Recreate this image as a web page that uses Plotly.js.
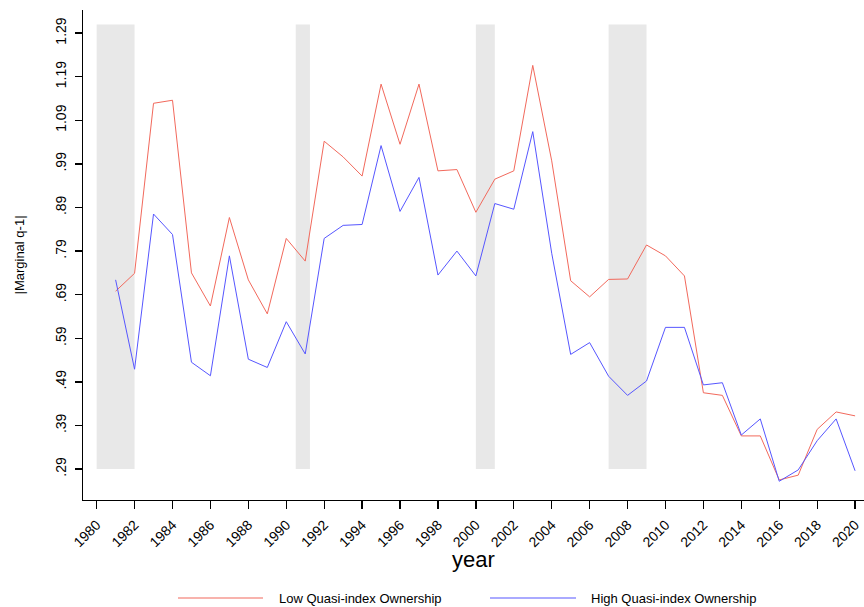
<!DOCTYPE html>
<html>
<head>
<meta charset="utf-8">
<script src="https://cdn.plot.ly/plotly-3.0.1.min.js"></script>
<style>
  html, body { margin: 0; padding: 0; background: #fff; }
  #chart { width: 864px; height: 607px; }
</style>
</head>
<body>
<div id="chart"></div>
<script>
// Years covered by both series
const years = [1981,1982,1983,1984,1985,1986,1987,1988,1989,1990,
               1991,1992,1993,1994,1995,1996,1997,1998,1999,2000,
               2001,2002,2003,2004,2005,2006,2007,2008,2009,2010,
               2011,2012,2013,2014,2015,2016,2017,2018,2019,2020];

// |Marginal q-1| for firms with low quasi-index ownership
const lowQix = [0.698,0.739,1.129,1.136,0.740,0.664,0.867,0.724,0.646,0.819,
                0.767,1.042,1.006,0.962,1.173,1.035,1.173,0.974,0.977,0.879,
                0.955,0.974,1.216,0.997,0.722,0.685,0.725,0.726,0.804,0.779,
                0.733,0.465,0.459,0.366,0.366,0.265,0.276,0.381,0.421,0.412];

// |Marginal q-1| for firms with high quasi-index ownership
const highQix = [0.724,0.519,0.875,0.828,0.535,0.504,0.779,0.542,0.523,0.628,
                 0.554,0.819,0.849,0.851,1.032,0.881,0.959,0.735,0.790,0.733,
                 0.899,0.886,1.064,0.785,0.553,0.580,0.503,0.459,0.492,0.615,
                 0.615,0.483,0.488,0.368,0.405,0.262,0.288,0.355,0.405,0.286];

// Recession periods (shaded bands)
const recStart = [1980, 1990.5, 2000, 2007];
const recEnd   = [1982, 1991.25, 2001, 2009];
const bandLow = 0.29, bandHigh = 1.31;

// Axis ticks
const yTickVals = [0.29,0.39,0.49,0.59,0.69,0.79,0.89,0.99,1.09,1.19,1.29];
const yTickText = [".29",".39",".49",".59",".69",".79",".89",".99","1.09","1.19","1.29"];
const xTickVals = [1980,1982,1984,1986,1988,1990,1992,1994,1996,1998,2000,
                   2002,2004,2006,2008,2010,2012,2014,2016,2018,2020];

const seriesNames = ["Low Quasi-index Ownership", "High Quasi-index Ownership"];
const RED = "#f2695c";
const BLUE = "#5656ff";
const FONT = "Liberation Sans, Arial, Helvetica, sans-serif";

// Plot area in pixels (used to place the legend and x title in paper units)
const PL = 83, PW = 781, PB = 500, PH = 490;
const px = v => (v - PL) / PW;
const py = v => (PB - v) / PH;

const traces = [
  { x: years, y: lowQix, type: "scatter", mode: "lines", name: seriesNames[0],
    line: { color: RED, width: 1 }, showlegend: false },
  { x: years, y: highQix, type: "scatter", mode: "lines", name: seriesNames[1],
    line: { color: BLUE, width: 1 }, showlegend: false }
];

const shapes = recStart.map((s, i) => ({
  type: "rect", xref: "x", yref: "y", layer: "below",
  x0: s, x1: recEnd[i], y0: bandLow, y1: bandHigh,
  fillcolor: "#e8e8e8", line: { width: 0 }
}));

// Legend drawn below the plot: line samples plus labels
const legendItems = [
  { color: RED,  x0: 178, x1: 263, tx: 277, label: seriesNames[0] },
  { color: BLUE, x0: 490, x1: 576, tx: 589, label: seriesNames[1] }
];
const legY = 598;
const annotations = [];
legendItems.forEach(it => {
  shapes.push({
    type: "line", xref: "paper", yref: "paper",
    x0: px(it.x0), x1: px(it.x1), y0: py(legY), y1: py(legY),
    line: { color: it.color, width: 1.2 }
  });
  annotations.push({
    xref: "paper", yref: "paper", x: px(it.tx), y: py(legY),
    xanchor: "left", yanchor: "middle", showarrow: false,
    text: it.label, font: { family: FONT, size: 13, color: "#000" }
  });
});

// x-axis title
annotations.push({
  xref: "paper", yref: "paper", x: 0.5, y: py(545),
  xanchor: "center", yanchor: "top", showarrow: false,
  text: "year", font: { family: FONT, size: 22, color: "#000" }
});

const layout = {
  width: 864, height: 607,
  margin: { l: PL, r: 0, t: 10, b: 607 - PB },
  paper_bgcolor: "#fff", plot_bgcolor: "#fff",
  font: { family: FONT, color: "#000" },
  showlegend: false,
  xaxis: {
    range: [1979.28, 2020.47],
    tickvals: xTickVals,
    ticktext: xTickVals.map(String),
    tickangle: -45,
    ticks: "outside", ticklen: 8, tickwidth: 1.3, tickcolor: "#000",
    ticklabelstandoff: 2,
    tickfont: { family: FONT, size: 14, color: "#000" },
    showline: true, linecolor: "#000", linewidth: 1.3,
    showgrid: false, zeroline: false
  },
  yaxis: {
    range: [0.219, 1.343],
    tickvals: yTickVals,
    ticktext: yTickText,
    tickangle: -90,
    ticks: "outside", ticklen: 7, tickwidth: 1.3, tickcolor: "#000",
    ticklabelstandoff: 3,
    tickfont: { family: FONT, size: 14, color: "#000" },
    showline: true, linecolor: "#000", linewidth: 1.3,
    showgrid: false, zeroline: false,
    title: { text: "|Marginal q-1|", font: { family: FONT, size: 13, color: "#000" }, standoff: 25 }
  },
  shapes: shapes,
  annotations: annotations
};

Plotly.newPlot("chart", traces, layout, { staticPlot: true, displayModeBar: false });
</script>
</body>
</html>
